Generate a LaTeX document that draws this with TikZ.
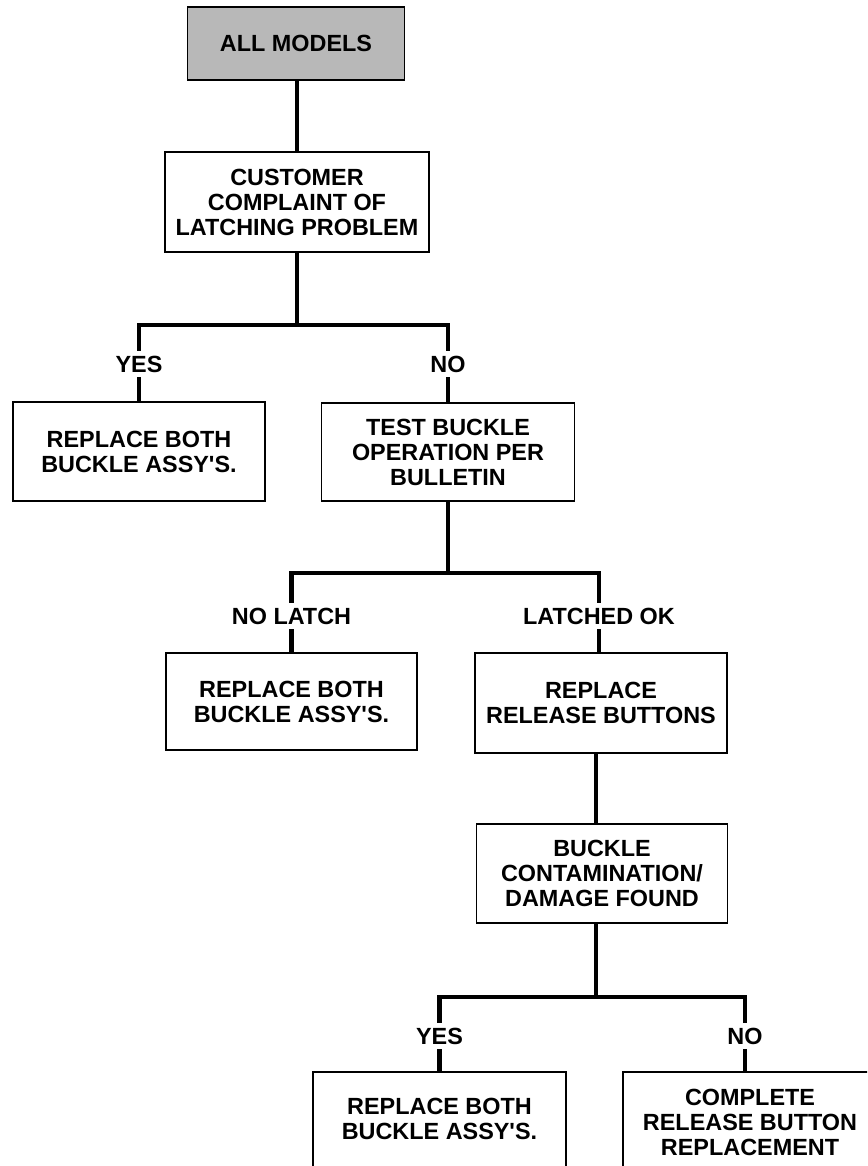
\documentclass[tikz,border=0pt]{standalone}
\usepackage{fontspec}
\setmainfont{Liberation Sans}
\newcommand{\apo}{\textquotesingle}
\begin{document}
\begin{tikzpicture}[x=1pt,y=-1pt,
  txt/.style={font=\bfseries\fontsize{23.4pt}{25pt}\selectfont, align=center, inner sep=0pt},
  box/.style={txt, draw, line width=1.8pt},
  openbox/.style={txt},
  conn/.style={line width=4.6pt, line join=miter},
  side/.style={line width=1.8pt},
  lbl/.style={txt, fill=white, text height=17pt, text depth=0pt, inner xsep=1pt, inner ysep=4.5pt},
  graybox/.style={box, fill=black!28}
]
\useasboundingbox (0,0) rectangle (867,1166);
\clip (0,0) rectangle (867,1166);

% boxes
\node[graybox, minimum width=217pt, minimum height=73pt] (am) at (296,43.5) {ALL MODELS};
\node[box, minimum width=264pt, minimum height=100pt] (cc) at (297,202) {CUSTOMER\\COMPLAINT OF\\LATCHING PROBLEM};
\node[box, minimum width=252pt, minimum height=99pt] (r1) at (139,451.5) {REPLACE BOTH\\BUCKLE ASSY\apo S.};
\node[box, minimum width=253pt, minimum height=98pt] (tb) at (448,452) {TEST BUCKLE\\OPERATION PER\\BULLETIN};
\node[box, minimum width=251pt, minimum height=97pt] (r2) at (291.5,701.5) {REPLACE BOTH\\BUCKLE ASSY\apo S.};
\node[box, minimum width=252pt, minimum height=100pt] (rr) at (601,703) {REPLACE\\RELEASE BUTTONS};
\node[box, minimum width=251pt, minimum height=99pt] (bc) at (602,873.5) {BUCKLE\\CONTAMINATION/\\DAMAGE FOUND};
\node[openbox, minimum width=253pt, minimum height=94pt] (r3) at (439.5,1119) {REPLACE BOTH\\BUCKLE ASSY\apo S.};
\node[openbox, minimum width=254pt, minimum height=100pt] (r4) at (750,1122) {COMPLETE\\RELEASE BUTTON\\REPLACEMENT};
\draw[side] ([yshift=-20pt]r3.south west) -- (r3.north west) -- (r3.north east) -- ([yshift=-20pt]r3.south east);
\draw[side] ([yshift=-20pt]r4.south west) -- (r4.north west) -- (r4.north east) -- ([yshift=-20pt]r4.south east);

% junctions
\coordinate (j1) at (297,325);
\coordinate (j2) at (448,573);
\coordinate (j3) at (596,997);
\coordinate (c4) at (745,1072);

% connectors
\draw[conn] (am.south -| cc.north) -- (cc.north);
\draw[conn] (cc.south) -- (j1);
\draw[conn] (r1.north) |- (j1) -| (tb.north);
\draw[conn] (tb.south) -- (j2);
\draw[conn] (r2.north) |- (j2) -| ([xshift=-2pt]rr.north);
\draw[conn] ([xshift=-5pt]rr.south) -- ([xshift=-5pt]rr.south |- bc.north);
\draw[conn] ([xshift=-6pt]bc.south) -- (j3);
\draw[conn] (r3.north) |- (j3) -| (c4);

% labels
\node[lbl] (l1) at (139,363.5) {YES};
\node[lbl] (l2) at (448,363.5) {NO};
\node[lbl] (l3) at (291.5,615.5) {NO LATCH};
\node[lbl] (l4) at (599,615.5) {LATCHED OK};
\node[lbl] (l5) at (439.5,1036) {YES};
\node[lbl] (l6) at (745,1036) {NO};
\end{tikzpicture}
\end{document}
